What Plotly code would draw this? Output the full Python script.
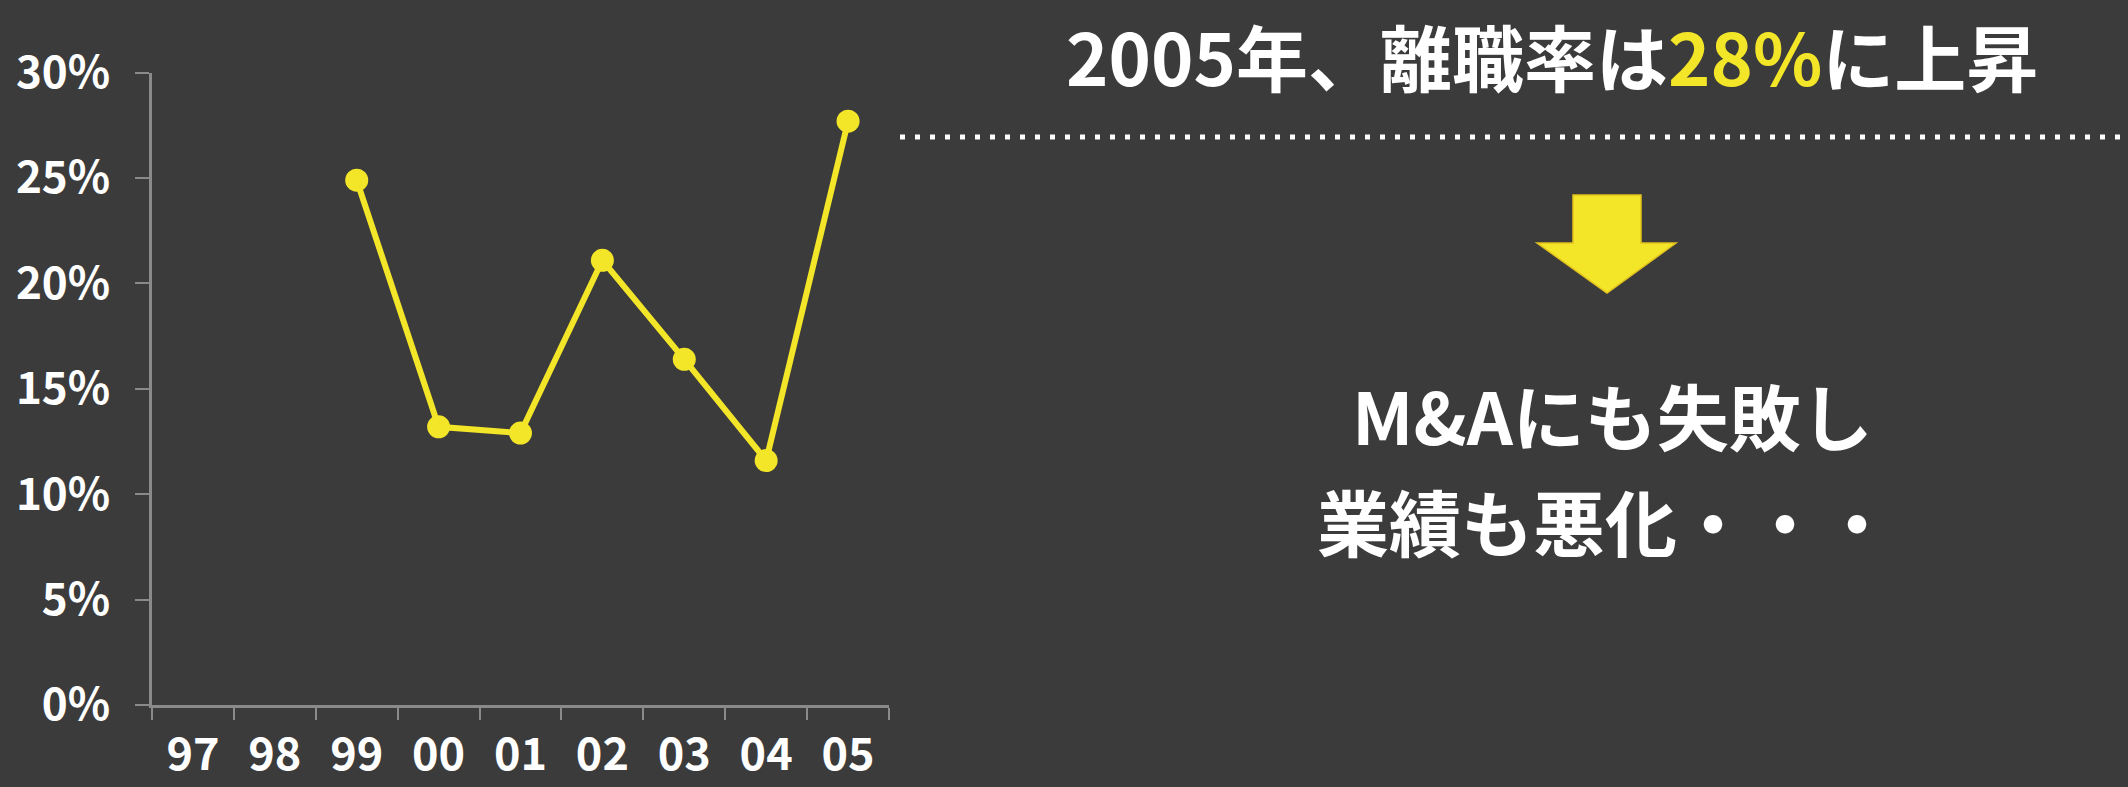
import plotly.graph_objects as go

# ---- data ----
years = ["97", "98", "99", "00", "01", "02", "03", "04", "05"]
turnover_rate = [None, None, 24.9, 13.2, 12.9, 21.1, 16.4, 11.6, 27.7]
y_ticks = [0, 5, 10, 15, 20, 25, 30]
title_text = "2005年、離職率は<span style='color:#F3E527'>28%</span>に上昇"
body_line1 = "M&Aにも失敗し"
body_line2 = "業績も悪化・・・"

W, H = 2128, 787
BG = "#3B3B3B"
YEL = "#F3E527"
AXIS = "#8A8A8A"
FONT = "Noto Sans CJK JP"


def px(x):
    return x / W


def py(y):
    return 1 - y / H


fig = go.Figure()
fig.add_trace(go.Scatter(
    x=years, y=turnover_rate, mode="lines+markers",
    line=dict(color=YEL, width=6),
    marker=dict(color=YEL, size=23),
    connectgaps=False, showlegend=False, hoverinfo="skip",
))

# arrow (decoration) in pixel -> paper coordinates
arrow_pts = [(1573, 195), (1641, 195), (1641, 243), (1676, 243),
             (1607, 293), (1537, 243), (1573, 243)]
path = "M " + " L ".join(f"{px(x):.5f},{py(y):.5f}" for x, y in arrow_pts) + " Z"

fig.update_layout(
    width=W, height=H,
    margin=dict(l=0, r=0, t=0, b=0, autoexpand=False),
    paper_bgcolor=BG, plot_bgcolor=BG,
    font=dict(family=FONT, color="white"),
    xaxis=dict(
        type="category", categoryorder="array", categoryarray=years,
        domain=[px(152), px(889)],
        automargin=False,
        showline=True, linecolor=AXIS, linewidth=3,
        ticks="outside", tickson="boundaries", ticklen=12, tickwidth=2, tickcolor=AXIS,
        showgrid=False, zeroline=False,
        tickfont=dict(size=45, color="white", family=FONT, weight="bold"),
        ticklabelstandoff=8,
        range=[-0.5, 8.5],
    ),
    yaxis=dict(
        domain=[py(705), py(72.7)],
        automargin=False,
        range=[0, 30],
        tickvals=y_ticks, ticktext=[f"{v}%" for v in y_ticks],
        showline=True, linecolor=AXIS, linewidth=3,
        ticks="outside", ticklen=14, tickwidth=2, tickcolor=AXIS,
        showgrid=False, zeroline=False,
        tickfont=dict(size=44, color="white", family=FONT, weight="bold"),
        ticklabelstandoff=16,
    ),
    shapes=[
        dict(type="line", xref="paper", yref="paper",
             x0=px(900), x1=1.0, y0=py(137), y1=py(137),
             line=dict(color="white", width=5, dash="5px,10px")),
        dict(type="path", xref="paper", yref="paper", path=path,
             fillcolor=YEL, line=dict(color="#E3C21E", width=1.5)),
    ],
    annotations=[
        dict(text=title_text, xref="paper", yref="paper",
             x=px(1552), y=1.0, xanchor="center", yanchor="top",
             showarrow=False, font=dict(size=72, color="white", family=FONT, weight="bold")),
        dict(text=body_line1, xref="paper", yref="paper",
             x=px(1612), y=py(413), xanchor="center", yanchor="middle",
             showarrow=False, font=dict(size=72, color="white", family=FONT, weight="bold")),
        dict(text=body_line2, xref="paper", yref="paper",
             x=px(1605), y=py(519), xanchor="center", yanchor="middle",
             showarrow=False, font=dict(size=72, color="white", family=FONT, weight="bold")),
    ],
)

fig.write_html(
    "out.html",
    config={"displayModeBar": False},
    post_script="document.body.style.margin='0';document.body.style.overflow='hidden';"
                "document.documentElement.style.background='" + BG + "';",
)
